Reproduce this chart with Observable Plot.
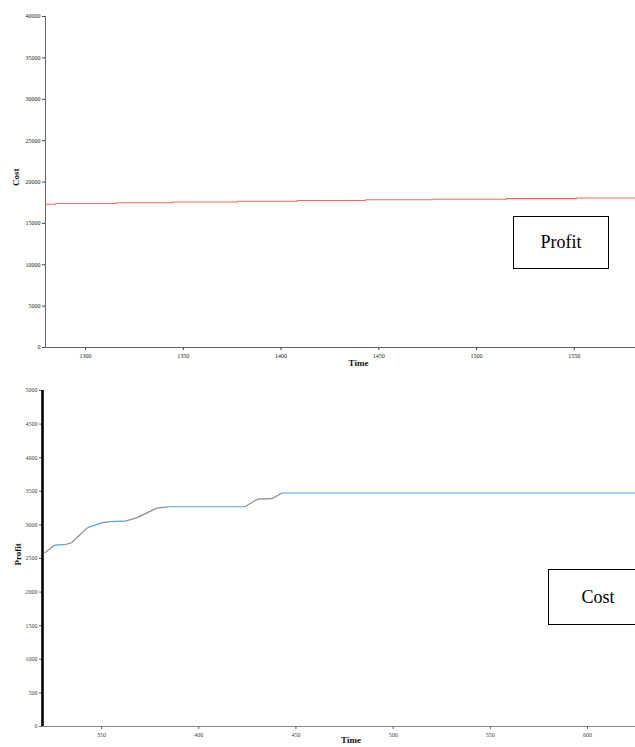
<!DOCTYPE html>
<html>
<head>
<meta charset="utf-8">
<script src="https://cdn.jsdelivr.net/npm/d3@7"></script>
<script src="https://cdn.jsdelivr.net/npm/@observablehq/plot@0.6"></script>
<style>
  html, body { margin: 0; padding: 0; background: #fff; }
  #wrap { position: relative; width: 635px; height: 747px; overflow: hidden; }
  .legend { position: absolute; border: 1.3px solid #000; background: #fff;
            font-family: "Liberation Serif", "Times New Roman", "DejaVu Serif", serif; font-size: 18px;
            display: flex; align-items: center; justify-content: center; box-sizing: border-box; color: #000; }
  svg { display: block; }
</style>
</head>
<body>
<div id="wrap"></div>
<script>
// ---- Top chart: Cost vs Time ----
const costTime   = [1279.5, 1284.7, 1315.9, 1344.5, 1377.7, 1408.4, 1443.2, 1477.5, 1515.3, 1551.2, 1581.3];
const costValue  = [17320, 17400, 17500, 17590, 17680, 17770, 17850, 17920, 17990, 18060, 18060];
const costXTicks = [1300, 1350, 1400, 1450, 1500, 1550];
const costYTicks = [0, 5000, 10000, 15000, 20000, 25000, 30000, 35000, 40000];
const costXDomain = [1279.5, 1581.3];
const costYDomain = [0, 40000];

// ---- Bottom chart: Profit vs Time ----
const profitTime  = [320.6, 325.8, 331, 334.5, 342.8, 350, 354, 362, 368, 378.4, 385, 423.7, 430.4, 437.6, 442.8, 624.7];
const profitValue = [2580, 2700, 2705, 2735, 2960, 3030, 3050, 3055, 3105, 3250, 3270, 3270, 3385, 3390, 3475, 3475];
const profitTone  = ["rise", "flat", "rise", "rise", "flat", "rise", "flat", "rise", "rise", "rise", "flat", "rise", "rise", "rise", "flat", "flat"];
const profitXTicks = [350, 400, 450, 500, 550, 600];
const profitYTicks = [0, 500, 1000, 1500, 2000, 2500, 3000, 3500, 4000, 4500, 5000];
const profitXDomain = [319.6, 624.7];
const profitYDomain = [0, 5000];

const serif = "'Liberation Serif', 'DejaVu Serif', serif";
const wrap = document.getElementById("wrap");

const costData = costTime.map((t, i) => ({t, v: costValue[i]}));
const costChart = Plot.plot({
  width: 635, height: 375,
  marginLeft: 45, marginRight: 0, marginTop: 16, marginBottom: 28,
  style: {fontFamily: serif, fontSize: "6px", background: "#fff", overflow: "visible"},
  x: {domain: costXDomain},
  y: {domain: costYDomain},
  marks: [
    Plot.ruleX([costXDomain[0]], {stroke: "#666", strokeWidth: 1}),
    Plot.ruleY([0], {stroke: "#666", strokeWidth: 1}),
    Plot.axisX({ticks: costXTicks, tickSize: 3, tickPadding: 3, stroke: "#444", fill: "#222", label: null, tickFormat: d => String(d)}),
    Plot.axisY({ticks: costYTicks, tickSize: 3, tickPadding: 2, stroke: "#444", fill: "#222", label: null, tickFormat: d => String(d)}),
    Plot.line(costData, {x: "t", y: "v", curve: "step-after", stroke: "#ff6464", strokeWidth: 1.1}),
    Plot.text(["Time"], {frameAnchor: "bottom", dx: 18, dy: 18, fontSize: 9, fontWeight: "bold", fill: "#111"}),
    Plot.text(["Cost"], {frameAnchor: "left", rotate: -90, dx: -29, dy: 4, fontSize: 9, fontWeight: "bold", fill: "#111"})
  ]
});
wrap.appendChild(costChart);

const profitData = profitTime.map((t, i) => ({t, v: profitValue[i], tone: profitTone[i]}));
const segs = profitData.slice(0, -1).map((d, i) => ({x1: d.t, y1: d.v, x2: profitData[i + 1].t, y2: profitData[i + 1].v, tone: d.tone}));
const profitChart = Plot.plot({
  width: 635, height: 372,
  marginLeft: 42, marginRight: 0, marginTop: 15, marginBottom: 21,
  style: {fontFamily: serif, fontSize: "6px", background: "#fff", overflow: "visible"},
  x: {domain: profitXDomain},
  y: {domain: profitYDomain},
  marks: [
    Plot.ruleY([0], {stroke: "#888", strokeWidth: 1.2}),
    Plot.axisX({ticks: profitXTicks, tickSize: 3, tickPadding: 3, stroke: "#666", fill: "#444", label: null, tickFormat: d => String(d)}),
    Plot.axisY({ticks: profitYTicks, tickSize: 3, tickPadding: 2, stroke: "#666", fill: "#444", label: null, tickFormat: d => String(d)}),
    Plot.ruleX([profitXDomain[0]], {y1: 0, y2: profitYDomain[1], stroke: "#000", strokeWidth: 2.6}),
    Plot.link(segs, {x1: "x1", y1: "y1", x2: "x2", y2: "y2",
      stroke: d => d.tone === "flat" ? "#4da3ea" : "#8a8a8a", strokeWidth: 1.2}),
    Plot.text(["Time"], {frameAnchor: "bottom", dx: 12, dy: 16, fontSize: 9, fontWeight: "bold", fill: "#111"}),
    Plot.text(["Profit"], {frameAnchor: "left", rotate: -90, dx: -24, dy: 7, fontSize: 9, fontWeight: "bold", fill: "#111"})
  ]
});
wrap.appendChild(profitChart);

// legend boxes (as drawn in the reference)
function legend(label, left, topPx, w, h) {
  const d = document.createElement("div");
  d.className = "legend";
  d.textContent = label;
  Object.assign(d.style, {left: left + "px", top: topPx + "px", width: w + "px", height: h + "px",
    fontFamily: "'Liberation Serif', 'Times New Roman', serif"});
  wrap.appendChild(d);
}
legend("Profit", 513, 216, 96, 53);
legend("Cost", 548, 569, 100, 56);
</script>
</body>
</html>
